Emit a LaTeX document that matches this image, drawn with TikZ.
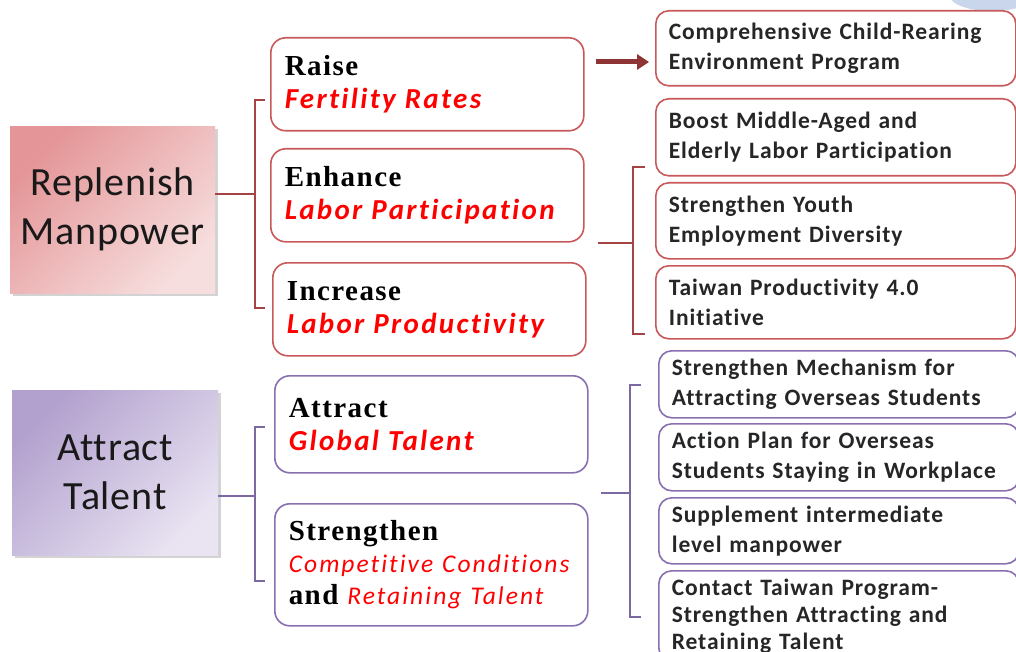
\documentclass[tikz,border=0pt]{standalone}
\usepackage{fontspec}
\setmainfont[Ligatures=NoCommon]{Carlito}
\newfontfamily\headfont[LetterSpace=5]{Liberation Serif}
\newfontfamily\spreadfont[Ligatures=NoCommon,LetterSpace=8]{Carlito}
\newfontfamily\planfont[Ligatures=NoCommon,LetterSpace=4]{Carlito}
\usetikzlibrary{arrows.meta,shadows}

\definecolor{rosefill}{HTML}{E49597}
\definecolor{roselite}{HTML}{F7DEDE}
\definecolor{lilacfill}{HTML}{B2A1CE}
\definecolor{lilaclite}{HTML}{E9E3F2}
\definecolor{roseline}{HTML}{C8585A}
\definecolor{lilacline}{HTML}{8870B0}
\definecolor{rosebr}{HTML}{A44444}
\definecolor{lilacbr}{HTML}{7C68A2}
\definecolor{arrowred}{HTML}{8E3434}
\definecolor{hintblue}{HTML}{C9D6EC}
\definecolor{redword}{HTML}{FF0000}

\newcommand{\lead}[1]{{\headfont\bfseries\fontsize{29}{33}\selectfont #1}}
\newcommand{\hot}[1]{{\color{redword}\spreadfont\bfseries\itshape\fontsize{29}{33}\selectfont #1}}
\newcommand{\warm}[1]{{\color{redword}\spreadfont\itshape\fontsize{25.5}{32}\selectfont #1}}

\tikzset{
  goalbox/.style={anchor=north west, align=center, inner sep=0pt,
    text=black!90, font=\addfontfeature{LetterSpace=2}\fontsize{40}{51}\selectfont,
    drop shadow={shadow xshift=3pt, shadow yshift=-3pt, opacity=0.35, fill=gray}},
  midbox/.style={draw=#1, line width=1.6pt, rounded corners=15pt, fill=white,
    anchor=north west, align=left, text width=285pt, inner xsep=14pt,
    inner ysep=4pt, minimum height=93pt, font=\fontsize{27}{33}\selectfont},
  planbox/.style={draw=#1, line width=1.6pt, rounded corners=13pt, fill=white,
    anchor=north west, align=left, text width=334pt, inner xsep=13pt,
    inner ysep=3pt, text=black!85,
    font=\planfont\bfseries\fontsize{23.5}{30}\selectfont},
  brace/.style={draw=#1, line width=1.5pt}
}

\begin{document}
\begin{tikzpicture}[x=1pt,y=-1pt]
\clip (0,0) rectangle (1016,652);
\fill[hintblue] (992,-4) ellipse (42pt and 15pt);

% left goals
\node[goalbox, minimum width=205pt, minimum height=167pt,
  top color=rosefill, bottom color=roselite, shading angle=45] (rep) at (10,126)
  {Replenish\\[-2pt]Manpower};
\node[goalbox, minimum width=206pt, minimum height=165pt,
  top color=lilacfill, bottom color=lilaclite, shading angle=45] (att) at (12,390)
  {Attract\\[-2pt]Talent};

% strategies
\node[midbox=roseline] (raise) at (270,37) {\lead{Raise}\\\hot{Fertility Rates}};
\node[midbox=roseline] (enh) at (270,148) {\lead{Enhance}\\\hot{Labor Participation}};
\node[midbox=roseline] (inc) at (272,262) {\lead{Increase}\\\hot{Labor Productivity}};
\node[midbox=lilacline, minimum height=97pt] (glob) at (274,375)
  {\lead{Attract}\\\hot{Global Talent}};
\node[midbox=lilacline, minimum height=122pt, font=\fontsize{27}{32}\selectfont] (comp) at (274,503)
  {\lead{Strengthen}\\\warm{Competitive Conditions}\\\lead{and} \warm{Retaining Talent}};

% programs
\node[planbox=roseline, minimum height=75pt] (child) at (655,10)
  {Comprehensive\ Child-Rearing\\Environment\ Program};
\node[planbox=roseline, minimum height=77pt] (boost) at (655,98)
  {Boost Middle-Aged and\\Elderly Labor Participation};
\node[planbox=roseline, minimum height=76pt] (youth) at (655,182)
  {Strengthen Youth\\Employment Diversity};
\node[planbox=roseline, minimum height=73pt] (tp) at (655,265)
  {Taiwan\ Productivity\ 4.0\\Initiative};
\node[planbox=lilacline, minimum height=67pt] (mech) at (658,350)
  {Strengthen Mechanism for\\Attracting Overseas Students};
\node[planbox=lilacline, minimum height=67pt] (stay) at (658,423)
  {Action Plan for Overseas\\Students Staying in Workplace};
\node[planbox=lilacline, minimum height=66pt] (supp) at (658,497)
  {Supplement intermediate\\level manpower};
\node[planbox=lilacline, minimum height=90pt, font=\planfont\bfseries\fontsize{23.5}{27}\selectfont] (ct) at (658,570)
  {Contact Taiwan Program-\\Strengthen Attracting and\\Retaining Talent};

% brackets
\coordinate (repj) at (255,194);
\coordinate (attj) at (255,496);
\coordinate (enhj) at (633,243);
\coordinate (globj) at (630,493);
\draw[brace=rosebr] (rep.east |- repj) -- (repj);
\draw[brace=rosebr] (265,100) -- (255,100) -- (255,308) -- (265,308);
\draw[brace=lilacbr] (att.east |- attj) -- (attj);
\draw[brace=lilacbr] (265,427) -- (255,427) -- (255,581) -- (265,581);
\draw[brace=rosebr] ([xshift=13pt]enh.east |- enhj) -- (enhj);
\draw[brace=rosebr] (645,167) -- (633,167) -- (633,334) -- (645,334);
\draw[brace=lilacbr] ([xshift=12pt]comp.east |- globj) -- (globj);
\draw[brace=lilacbr] (641,385) -- (630,385) -- (630,617) -- (641,617);

\coordinate (tail) at (596,62);
\draw[arrowred, line width=5pt, -{Triangle[length=12pt,width=15pt]}, shorten >=6pt]
  (tail) -- (tail -| child.west);
\end{tikzpicture}
\end{document}
